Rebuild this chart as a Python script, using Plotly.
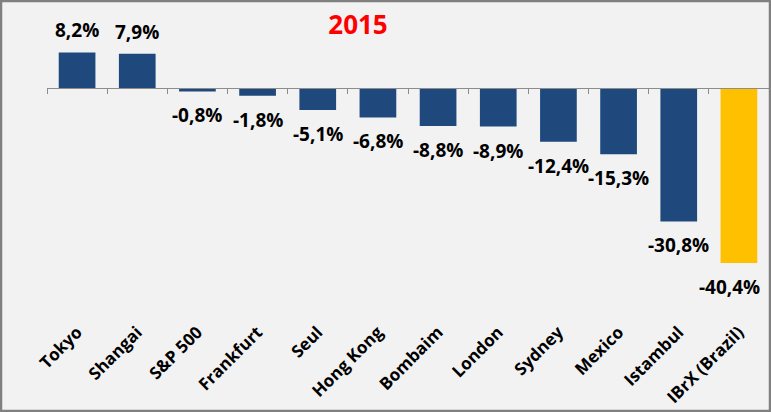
import plotly.graph_objects as go

categories = ["Tokyo", "Shangai", "S&P 500", "Frankfurt", "Seul", "Hong Kong",
              "Bombaim", "London", "Sydney", "Mexico", "Istambul", "IBrX (Brazil)"]
values = [8.2, 7.9, -0.8, -1.8, -5.1, -6.8, -8.8, -8.9, -12.4, -15.3, -30.8, -40.4]
highlight = "IBrX (Brazil)"
title_text = "2015"

BLUE = "#1F497D"
GOLD = "#FFC000"
BG = "#F2F2F2"
FONT = "Open Sans"

colors = [GOLD if c == highlight else BLUE for c in categories]
y_range = [-53.1, 9.93]
zero_pos = (0 - y_range[0]) / (y_range[1] - y_range[0])

fig = go.Figure()
fig.add_trace(go.Bar(x=categories, y=values, marker=dict(color=colors, line=dict(width=0)),
                     hoverinfo="skip"))

annotations = []
for i, (c, v) in enumerate(zip(categories, values)):
    last = i == len(categories) - 1
    annotations.append(dict(
        x=c, y=v, xref="x", yref="y", showarrow=False,
        text=f"{v:.1f}%".replace(".", ","),
        font=dict(family=FONT, size=19, color="#000000", weight="bold"),
        yanchor="middle", xanchor="center",
        yshift=22 if v >= 0 else -24,
        xshift=-9 if last else 0,
    ))

fig.update_layout(
    width=771, height=412,
    margin=dict(l=47, r=2, t=45, b=94),
    paper_bgcolor=BG, plot_bgcolor=BG,
    showlegend=False,
    bargap=0.39,
    separators=",.",
    title=dict(text=f"<b>{title_text}</b>", x=(358 - 47) / 722, xref="paper", xanchor="center",
               y=1 - 25 / 412, yref="container", yanchor="middle",
               font=dict(family=FONT, size=26, color="#FF0000")),
    xaxis=dict(type="category", categoryorder="array", categoryarray=categories,
               range=[-0.5, len(categories) - 0.5],
               tickangle=-45, ticks="", showline=False, showgrid=False, zeroline=False,
               tickfont=dict(family=FONT, size=17, color="#000000", weight="bold")),
    xaxis2=dict(type="category", categoryorder="array", categoryarray=categories,
                matches="x", overlaying="x", anchor="free", position=zero_pos,
                showline=True, linecolor="#8C8C8C", linewidth=1,
                ticks="outside", tickson="boundaries", ticklen=5, tickcolor="#8C8C8C",
                showticklabels=False, showgrid=False, zeroline=False),
    yaxis=dict(range=y_range, visible=False, showgrid=False, zeroline=False),
    annotations=annotations,
    shapes=[dict(type="rect", xref="paper", yref="paper",
                 x0=-47 / 722 + 1 / 722, x1=1 + 2 / 722 - 1 / 722,
                 y0=-94 / 273 + 1 / 273, y1=1 + 45 / 273 - 1 / 273,
                 line=dict(color="#808080", width=2.5), layer="above")],
)
# invisible trace to activate xaxis2
fig.add_trace(go.Scatter(x=categories, y=[0] * len(categories), xaxis="x2", mode="none",
                         hoverinfo="skip", showlegend=False))

fig.write_html("out.html")
